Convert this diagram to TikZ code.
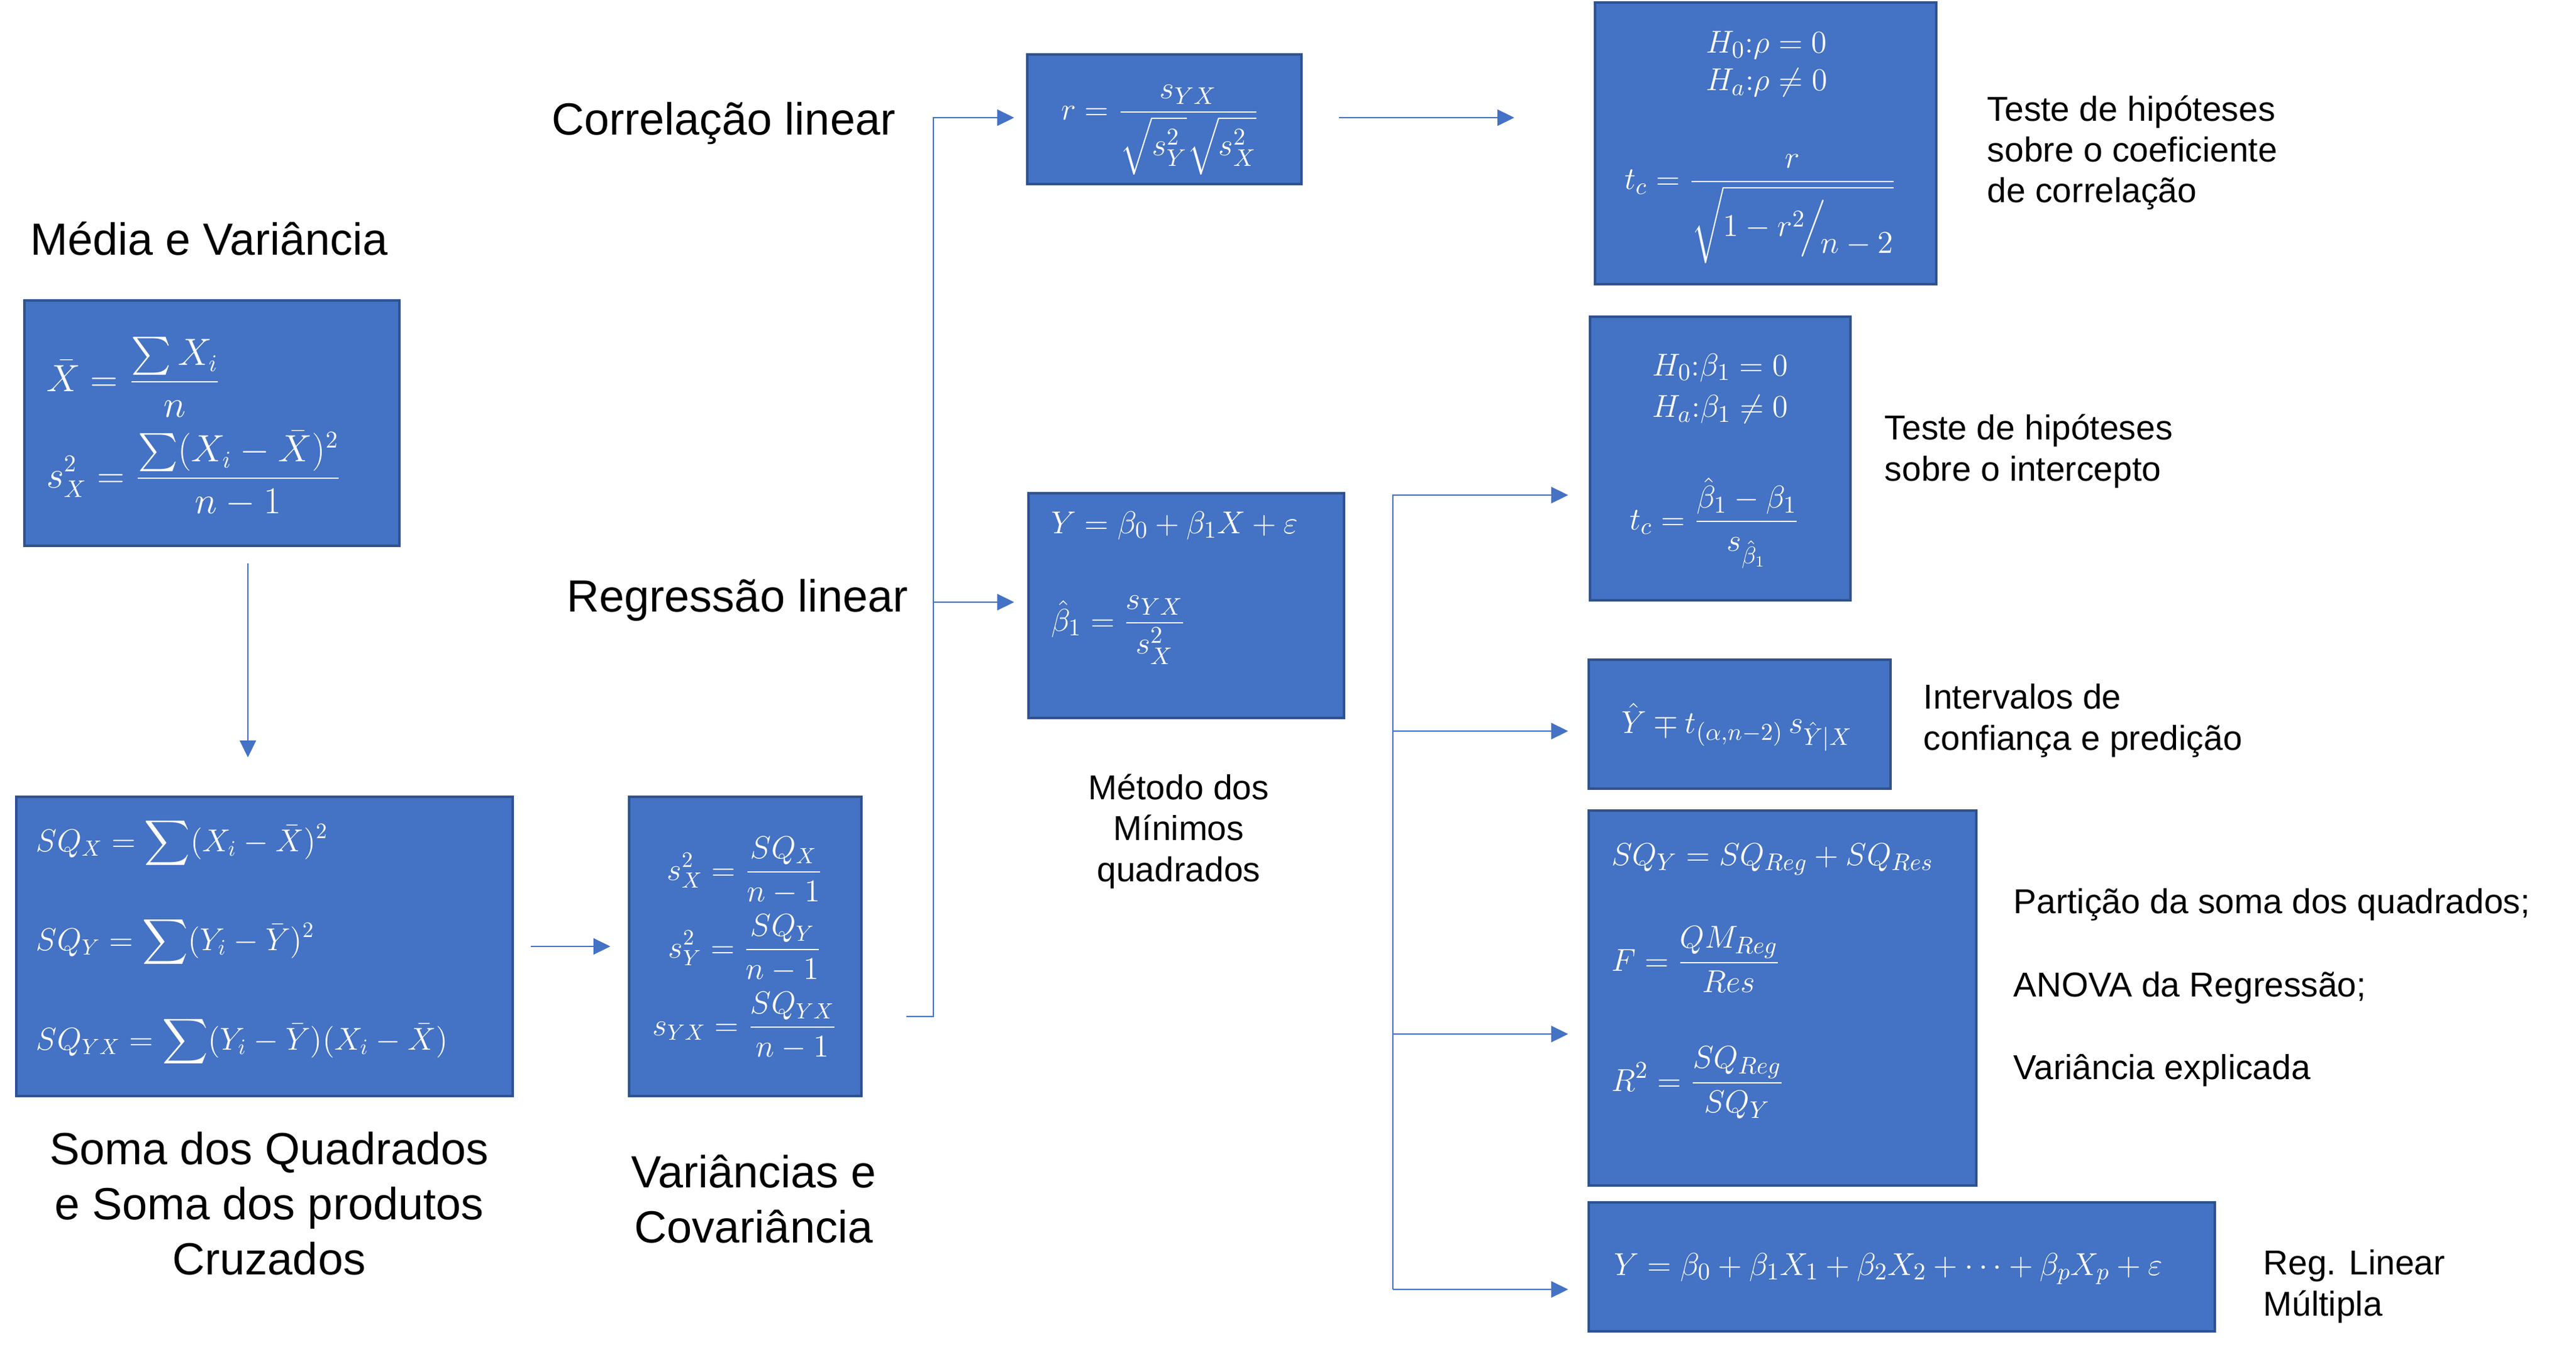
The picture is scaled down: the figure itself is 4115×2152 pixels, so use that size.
\documentclass[tikz,border=0pt]{standalone}
\usepackage{amsmath}
\usepackage[no-math]{fontspec}
\newfontfamily\lab{Liberation Sans}
\usetikzlibrary{arrows.meta}
\definecolor{boxfill}{HTML}{4472C4}
\definecolor{boxline}{HTML}{2F528F}
\definecolor{conncol}{HTML}{4472C4}
\tikzset{
  fbox/.style={draw=boxline, fill=boxfill, line width=0.45mm, anchor=north west, inner sep=0pt, outer sep=0pt},
  fml/.style={text=white, inner sep=0pt, outer sep=0pt, font=\fontsize{15}{18}\selectfont},
  labbig/.style={font=\lab\fontsize{20.5}{25}\selectfont, inner sep=0pt, align=center},
  labsmall/.style={font=\lab\fontsize{15.7}{18.6}\selectfont, inner sep=0pt, align=left},
  conn/.style={draw=conncol, line width=0.6pt},
  arr/.style={conn, -{Triangle[length=2.7mm,width=2.6mm]}},
}
\begin{document}
\begin{tikzpicture}[x=0.1mm, y=-0.1mm]
\useasboundingbox (0,0) rectangle (4115,2152);

% boxes
\node[fbox, minimum width=59.9mm, minimum height=39.2mm] (mv) at (39,480) {};
\node[fbox, minimum width=79.3mm, minimum height=47.8mm] (sq) at (26,1273) {};
\node[fbox, minimum width=37.1mm, minimum height=47.8mm] (var) at (1005,1273) {};
\node[fbox, minimum width=43.8mm, minimum height=20.7mm] (rb) at (1641,87) {};
\node[fbox, minimum width=50.4mm, minimum height=35.9mm] (reg) at (1643,788) {};
\node[fbox, minimum width=54.5mm, minimum height=45.0mm] (hrho) at (2548,4) {};
\node[fbox, minimum width=41.6mm, minimum height=45.3mm] (hbeta) at (2540,506) {};
\node[fbox, minimum width=48.2mm, minimum height=20.6mm] (ci) at (2538,1054) {};
\node[fbox, minimum width=61.9mm, minimum height=59.9mm] (anova) at (2538,1295) {};
\node[fbox, minimum width=100.0mm, minimum height=20.6mm] (mult) at (2538,1921) {};

% formulas
\node[fml, font=\fontsize{16}{19}\selectfont, anchor=base west] (mv1) at (74,625) {$\displaystyle \bar{X} = \frac{\sum X_i}{n}$};
\node[fml, font=\fontsize{16}{19}\selectfont, anchor=base west] (mv2) at (74,779) {$\displaystyle s_X^2 = \frac{\sum (X_i-\bar{X})^2}{n-1}$};

\node[fml, font=\fontsize{14.5}{17}\selectfont, anchor=base west] (sq1) at (58,1360) {$\displaystyle SQ_X = \sum (X_i-\bar{X})^2$};
\node[fml, font=\fontsize{14.5}{17}\selectfont, anchor=base west] (sq2) at (58,1518) {$\displaystyle SQ_Y = \sum (Y_i-\bar{Y})^2$};
\node[fml, font=\fontsize{14.5}{17}\selectfont, anchor=base west] (sq3) at (58,1677) {$\displaystyle SQ_{YX} = \sum (Y_i-\bar{Y})(X_i-\bar{X})$};

\node[fml, font=\fontsize{14.5}{17}\selectfont, anchor=base] (v1) at (1190,1406) {$\displaystyle s_X^2 = \frac{SQ_X}{n-1}$};
\node[fml, font=\fontsize{14.5}{17}\selectfont, anchor=base] (v2) at (1190,1530) {$\displaystyle s_Y^2 = \frac{SQ_Y}{n-1}$};
\node[fml, font=\fontsize{14.5}{17}\selectfont, anchor=base] (v3) at (1190,1654) {$\displaystyle s_{YX} = \frac{SQ_{YX}}{n-1}$};

\node[fml, anchor=base] (r1) at (1853,192) {$\displaystyle r = \frac{s_{YX}}{\sqrt{s_Y^2}\sqrt{s_X^2}}$};

\node[fml, anchor=base west] (g1) at (1679,852) {$Y = \beta_0 + \beta_1 X + \varepsilon$};
\node[fml, anchor=base west] (g2) at (1679,1008) {$\displaystyle \hat{\beta}_1 = \frac{s_{YX}}{s_X^2}$};

\node[fml, anchor=base] (h1) at (2822,85) {$H_0{:}\rho = 0$};
\node[fml, anchor=base] (h2) at (2822,145) {$H_a{:}\rho \neq 0$};
\node[fml, anchor=base west] (h3) at (2595,303) {$\displaystyle t_c = \frac{r}{\displaystyle\sqrt{1-r^2\!\Big/\!\raisebox{-1.2ex}{$n-2$}}}$};

\node[fml, anchor=base] (k1) at (2748,600) {$H_0{:}\beta_1 = 0$};
\node[fml, anchor=base] (k2) at (2748,667) {$H_a{:}\beta_1 \neq 0$};
\node[fml, anchor=base west] (k3) at (2603,846) {$\displaystyle t_c = \frac{\hat{\beta}_1-\beta_1}{s_{\hat{\beta}_1}}$};

\node[fml, anchor=base west] (ci1) at (2590,1171) {$\hat{Y} \mp t_{(\alpha,n-2)}\, s_{\hat{Y}|X}$};

\node[fml, anchor=base west] (an1) at (2574,1382) {$SQ_Y = SQ_{Reg} + SQ_{Res}$};
\node[fml, anchor=base west] (an2) at (2574,1551) {$\displaystyle F = \frac{QM_{Reg}}{Res}$};
\node[fml, anchor=base west] (an3) at (2574,1743) {$\displaystyle R^2 = \frac{SQ_{Reg}}{SQ_Y}$};

\node[fml, anchor=base west] (m1) at (2578,2037) {$Y = \beta_0 + \beta_1X_1 + \beta_2X_2 + \cdots + \beta_pX_p + \varepsilon$};

% labels (multi-line nodes: base anchor = last line's baseline)
\node[labbig, anchor=base west] (tMV) at (48,408) {Média e Variância};
\node[labbig, anchor=base west] (tCorr) at (881,216) {Correlação linear};
\node[labbig, anchor=base west] (tReg) at (905,977) {Regressão linear};
\node[labbig, anchor=base] (tSQ) at (430,2036) {Soma dos Quadrados\\e Soma dos produtos\\Cruzados};
\node[labbig, anchor=base] (tVar) at (1204,1985) {Variâncias e\\Covariância};
\node[labsmall, align=center, anchor=base] (tMMQ) at (1883,1408) {Método dos\\Mínimos\\quadrados};
\node[labsmall, anchor=base west] (tTr) at (3174,324) {Teste de hipóteses\\sobre o coeficiente\\de correlação};
\node[labsmall, anchor=base west] (tTb) at (3010,768) {Teste de hipóteses\\sobre o intercepto};
\node[labsmall, anchor=base west] (tCI) at (3072,1198) {Intervalos de\\confiança e predição};
\node[labsmall, anchor=base west] (tP1) at (3216,1459) {Partição da soma dos quadrados;};
\node[labsmall, anchor=base west] (tP2) at (3216,1592) {ANOVA da Regressão;};
\node[labsmall, anchor=base west] (tP3) at (3216,1724) {Variância explicada};
\node[labsmall, anchor=base west] (tMult) at (3615,2102) {Reg. Linear\\Múltipla};

% connectors
\coordinate (p1) at (396,900); \coordinate (p2) at (396,1210);
\draw[arr] (p1) -- (p2);
\coordinate (p3) at (848,1512); \coordinate (p4) at (975,1512);
\draw[arr] (p3) -- (p4);
\coordinate (q0) at (1448,1624); \coordinate (q1) at (1491,1624);
\coordinate (q2) at (1491,188); \coordinate (q3) at (1620,188);
\coordinate (q4) at (1491,962); \coordinate (q5) at (1620,962);
\draw[arr] (q0) -- (q1) -- (q2) -- (q3);
\draw[arr] (q4) -- (q5);
\coordinate (p5) at (2139,188); \coordinate (p6) at (2419,188);
\draw[arr] (p5) -- (p6);
\coordinate (w0) at (2225,2060); \coordinate (w1) at (2225,791);
\coordinate (w2) at (2225,1168); \coordinate (w3) at (2225,1652);
\coordinate (e1) at (2505,791); \coordinate (e2) at (2505,1168);
\coordinate (e3) at (2505,1652); \coordinate (e4) at (2505,2060);
\draw[arr] (w0) -- (w1) -- (e1);
\draw[arr] (w2) -- (e2);
\draw[arr] (w3) -- (e3);
\draw[arr] (w0) -- (e4);
\end{tikzpicture}
\end{document}
